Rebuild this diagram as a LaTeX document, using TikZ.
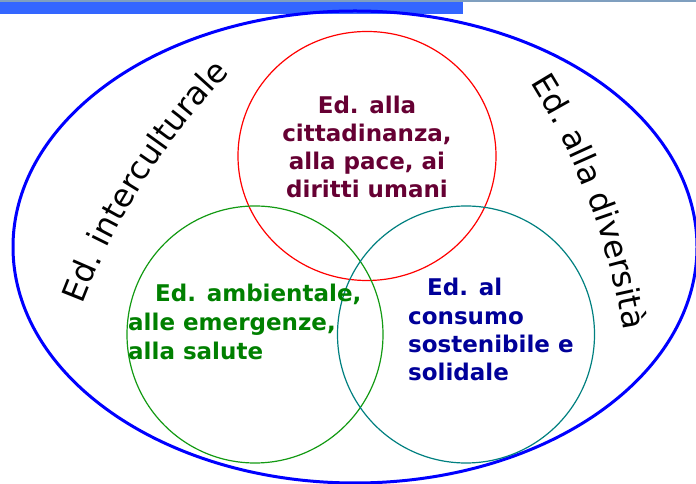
\documentclass[tikz,border=0pt]{standalone}
\usepackage{fontspec}
\setmainfont{DejaVu Sans}
\usetikzlibrary{decorations.text}
\definecolor{barblue}{HTML}{3366FF}
\definecolor{topline}{HTML}{7F9FBF}
\definecolor{ellblue}{HTML}{0000FF}
\definecolor{circred}{HTML}{FF0000}
\definecolor{circgreen}{HTML}{139A13}
\definecolor{circteal}{HTML}{008080}
\definecolor{txtred}{HTML}{660033}
\definecolor{txtgreen}{HTML}{008000}
\definecolor{txtblue}{HTML}{000099}
\newcommand\curvefont{\fontsize{32}{38}\selectfont}
\tikzset{
  ctext/.style={inner sep=0pt, font=\fontsize{23}{28}\bfseries\selectfont},
  redtxt/.style={ctext, text=txtred, anchor=base},
  greentxt/.style={ctext, text=txtgreen, anchor=base west},
  bluetxt/.style={ctext, text=txtblue, anchor=base west},
}
\begin{document}
\begin{tikzpicture}[x=1pt,y=1pt]
\useasboundingbox (0,0) rectangle (696,484);
\fill[white] (0,0) rectangle (696,484);
% top bar
\fill[topline] (0,482.3) rectangle (696,484);
\fill[barblue] (0,470) rectangle (463,482.3);
% big ellipse
\draw[ellblue, line width=3pt] (355,237) ellipse [x radius=342, y radius=236];
% circles
\draw[circred, line width=1.2pt] (367,328) ellipse [x radius=129, y radius=124.5];
\draw[circgreen, line width=1.2pt] (255,149.5) ellipse [x radius=128, y radius=128.5];
\draw[circteal, line width=1.2pt] (466,149.5) ellipse [x radius=128.5, y radius=128.5];
% curved texts
\coordinate (cl) at (721.3,-64.8);
\coordinate (cr) at (-44.6,44.2);
\path[decorate, decoration={text along path, text align=center,
  text={|\curvefont|Ed. interculturale}}]
  (cl) ++(162.5:684) arc[start angle=162.5, end angle=132.5, radius=684];
\path[decorate, decoration={text along path, text align=center,
  text={|\curvefont|Ed. alla diversità}}]
  (cr) ++(35.6:677) arc[start angle=35.6, end angle=5.6, radius=677];
% red text
\node[redtxt] (r1) at (367,370) {Ed. alla};
\node[redtxt] (r2) at (367,342) {cittadinanza,};
\node[redtxt] (r3) at (367,314) {alla pace, ai};
\node[redtxt] (r4) at (367,286) {diritti umani};
% green text
\node[greentxt] (g1) at (155,182) {Ed. ambientale,};
\node[greentxt] (g2) at (128,153) {alle emergenze,};
\node[greentxt] (g3) at (128,124) {alla salute};
% blue text
\node[bluetxt] (b1) at (427,188) {Ed. al};
\node[bluetxt] (b2) at (408,159) {consumo};
\node[bluetxt] (b3) at (408,131) {sostenibile e};
\node[bluetxt] (b4) at (408,103) {solidale};
\end{tikzpicture}
\end{document}
